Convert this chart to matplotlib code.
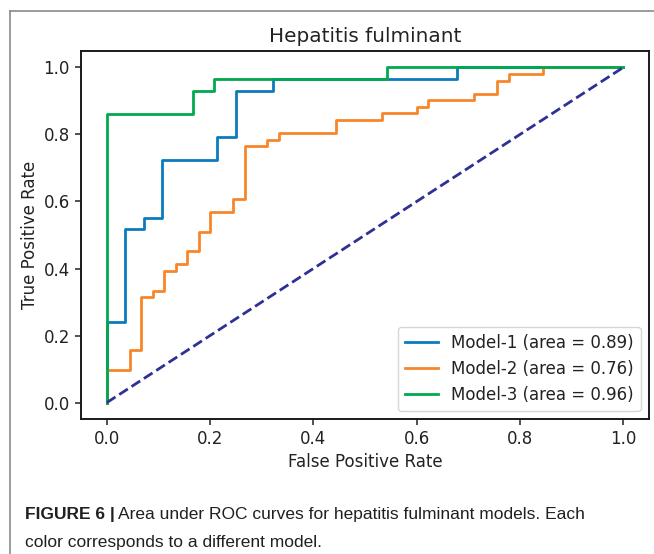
import matplotlib
matplotlib.use('Agg')
import matplotlib.pyplot as plt
from matplotlib.lines import Line2D

# ROC points per model (false positive rate, true positive rate), step-post order
fpr_m1 = [0, 0, 0.036, 0.071, 0.107, 0.214, 0.25, 0.321, 0.679, 1.0]
tpr_m1 = [0, 0.241, 0.517, 0.552, 0.724, 0.793, 0.931, 0.966, 1.0, 1.0]

fpr_m2 = [0, 0, 0.044, 0.067, 0.089, 0.111, 0.133, 0.156, 0.178, 0.2, 0.244,
          0.267, 0.311, 0.333, 0.444, 0.533, 0.6, 0.622, 0.711, 0.756, 0.778,
          0.844, 1.0]
tpr_m2 = [0, 0.098, 0.157, 0.314, 0.333, 0.392, 0.412, 0.451, 0.51, 0.569,
          0.608, 0.765, 0.784, 0.804, 0.843, 0.863, 0.882, 0.902, 0.922,
          0.961, 0.98, 1.0, 1.0]

fpr_m3 = [0, 0, 0.167, 0.208, 0.542, 1.0]
tpr_m3 = [0, 0.862, 0.931, 0.966, 1.0, 1.0]

model_names = ['Model-1', 'Model-2', 'Model-3']
model_auc = [0.89, 0.76, 0.96]
model_colors = ['#0b7bbd', '#f7862a', '#00a94f']

S = 1.2  # font scale
LW = 2.0

fig = plt.figure(figsize=(6.54, 5.54), dpi=100)
ax = fig.add_axes([0.1239, 0.2431, 0.8685, 0.6654])

curves = [(fpr_m1, tpr_m1), (fpr_m2, tpr_m2), (fpr_m3, tpr_m3)]
for (fpr, tpr), name, auc, col in zip(curves, model_names, model_auc, model_colors):
    ax.plot(fpr, tpr, drawstyle='steps-post', color=col, lw=LW,
            label=f'{name} (area = {auc:.2f})')

ax.plot([0, 1], [0, 1], color='#2e3192', lw=LW, linestyle='--')

ax.set_xlim(-0.05, 1.05)
ax.set_ylim(-0.05, 1.05)
ax.set_xticks([0, 0.2, 0.4, 0.6, 0.8, 1.0])
ax.set_yticks([0, 0.2, 0.4, 0.6, 0.8, 1.0])
ax.tick_params(labelsize=10 * S, length=4.5, width=1.1, colors='#222222')
for sp in ax.spines.values():
    sp.set_linewidth(1.4)
    sp.set_color('#1a1a1a')

ax.set_title('Hepatitis fulminant', fontsize=12 * S, color='#222222', pad=6)
ax.set_xlabel('False Positive Rate', fontsize=10 * S, color='#222222', labelpad=3)
ax.set_ylabel('True Positive Rate', fontsize=10 * S, color='#222222', labelpad=3)
leg = ax.legend(loc='lower right', fontsize=10 * S, handlelength=2.0)
for t in leg.get_texts():
    t.set_color('#222222')

# page frame lines
fx = 9.5 / 654
fy = 1 - 10.5 / 554
fig.add_artist(Line2D([fx, 1.0], [fy, fy], transform=fig.transFigure,
                      color='#8a8a8a', lw=1.2))
fig.add_artist(Line2D([fx, fx], [fy, 0.0], transform=fig.transFigure,
                      color='#8a8a8a', lw=1.2))

# caption
cap_font = ['Liberation Sans Narrow', 'Liberation Sans']
cx = 25 / 654
t1 = fig.text(cx, 1 - 519 / 554, 'FIGURE 6 |', fontsize=12.5, fontweight='bold',
              family=cap_font, color='#231f20')
fig.canvas.draw()
bb = t1.get_window_extent()
x2 = (bb.x1 + 3) / fig.bbox.width
fig.text(x2, 1 - 519 / 554,
         'Area under ROC curves for hepatitis fulminant models. Each',
         fontsize=12.5, family=cap_font, color='#231f20')
fig.text(cx, 1 - 547 / 554, 'color corresponds to a different model.',
         fontsize=12.5, family=cap_font, color='#231f20')

fig.savefig('out.png', dpi=100)
